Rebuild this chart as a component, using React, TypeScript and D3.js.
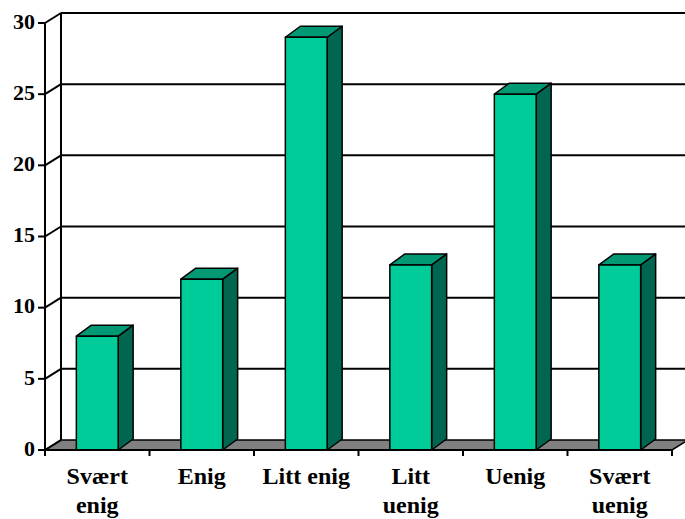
import React from "react";
import * as d3 from "d3";

const categories = ["Svært enig", "Enig", "Litt enig", "Litt uenig", "Uenig", "Svært uenig"];
const tickLabelLines = [["Svært", "enig"], ["Enig"], ["Litt enig"], ["Litt", "uenig"], ["Uenig"], ["Svært", "uenig"]];
const values = [8, 12, 29, 13, 25, 13];
const yTicks = [0, 5, 10, 15, 20, 25, 30];

export default function App() {
  const W = 685, H = 519;
  const x = d3.scaleBand<string>().domain(categories).range([45, 672]).paddingInner(0).paddingOuter(0);
  const y = d3.scaleLinear().domain([0, 30]).range([450, 23]);
  const wdx = 16, wdy = -10; // wall depth
  const bdx = 15, bdy = -11; // bar depth
  const bw = x.bandwidth() * 0.4;
  const font = "Liberation Serif, Times New Roman, serif";
  const y0 = y(0);
  const xL = 45, xR = 672;

  const front = "#00CC99";
  const top = "#009973";
  const side = "#006650";

  return (
    <svg width={W} height={H} style={{ position: "absolute", left: 0, top: 0 }}>
      <polygon
        points={`${xL},${y0} ${xR},${y0} ${xR + wdx},${y0 + wdy} ${xL + wdx},${y0 + wdy}`}
        fill="#808080"
        stroke="#000"
        strokeWidth={1.5}
      />
      {yTicks.map((t) => (
        <g key={t}>
          {t > 0 && (
            <line x1={xL + wdx} x2={W + 10} y1={y(t) + wdy} y2={y(t) + wdy} stroke="#000" strokeWidth={2} />
          )}
          <line x1={xL} x2={xL + wdx} y1={y(t)} y2={y(t) + wdy} stroke="#000" strokeWidth={2} />
          <line x1={xL - 7} x2={xL} y1={y(t)} y2={y(t)} stroke="#000" strokeWidth={2} />
          <text
            x={35}
            y={y(t) - 2}
            dy="0.35em"
            textAnchor="end"
            style={{ fontFamily: font, fontWeight: 700, fontSize: 22 }}
          >
            {t}
          </text>
        </g>
      ))}
      <line x1={xL + wdx} x2={xL + wdx} y1={y(30) + wdy} y2={y0 + wdy} stroke="#000" strokeWidth={2} />
      <line x1={xL} x2={xL} y1={y(30)} y2={y0} stroke="#000" strokeWidth={2} />
      {categories.map((c, i) => {
        const cx = (x(c) as number) + x.bandwidth() / 2;
        const x0 = cx - bw / 2, x1 = cx + bw / 2;
        const yt = y(values[i]);
        return (
          <g key={c} stroke="#000" strokeWidth={1.5} strokeLinejoin="round">
            <polygon
              points={`${x1},${yt} ${x1 + bdx},${yt + bdy} ${x1 + bdx},${y0 + bdy} ${x1},${y0}`}
              fill={side}
            />
            <polygon
              points={`${x0},${yt} ${x1},${yt} ${x1 + bdx},${yt + bdy} ${x0 + bdx},${yt + bdy}`}
              fill={top}
            />
            <rect x={x0} y={yt} width={bw} height={y0 - yt} fill={front} />
          </g>
        );
      })}
      <line x1={xL} x2={xR} y1={y0} y2={y0} stroke="#000" strokeWidth={2} />
      {d3.range(categories.length + 1).map((i) => {
        const xx = xL + i * x.bandwidth();
        return <line key={i} x1={xx} x2={xx} y1={y0} y2={y0 + 6} stroke="#000" strokeWidth={2} />;
      })}
      {categories.map((c, i) => {
        const cx = (x(c) as number) + x.bandwidth() / 2;
        return (
          <text
            key={c}
            x={cx}
            y={484}
            textAnchor="middle"
            style={{ fontFamily: font, fontWeight: 700, fontSize: 24 }}
          >
            {tickLabelLines[i].map((ln, j) => (
              <tspan key={j} x={cx} dy={j === 0 ? 0 : 29}>
                {ln}
              </tspan>
            ))}
          </text>
        );
      })}
    </svg>
  );
}
